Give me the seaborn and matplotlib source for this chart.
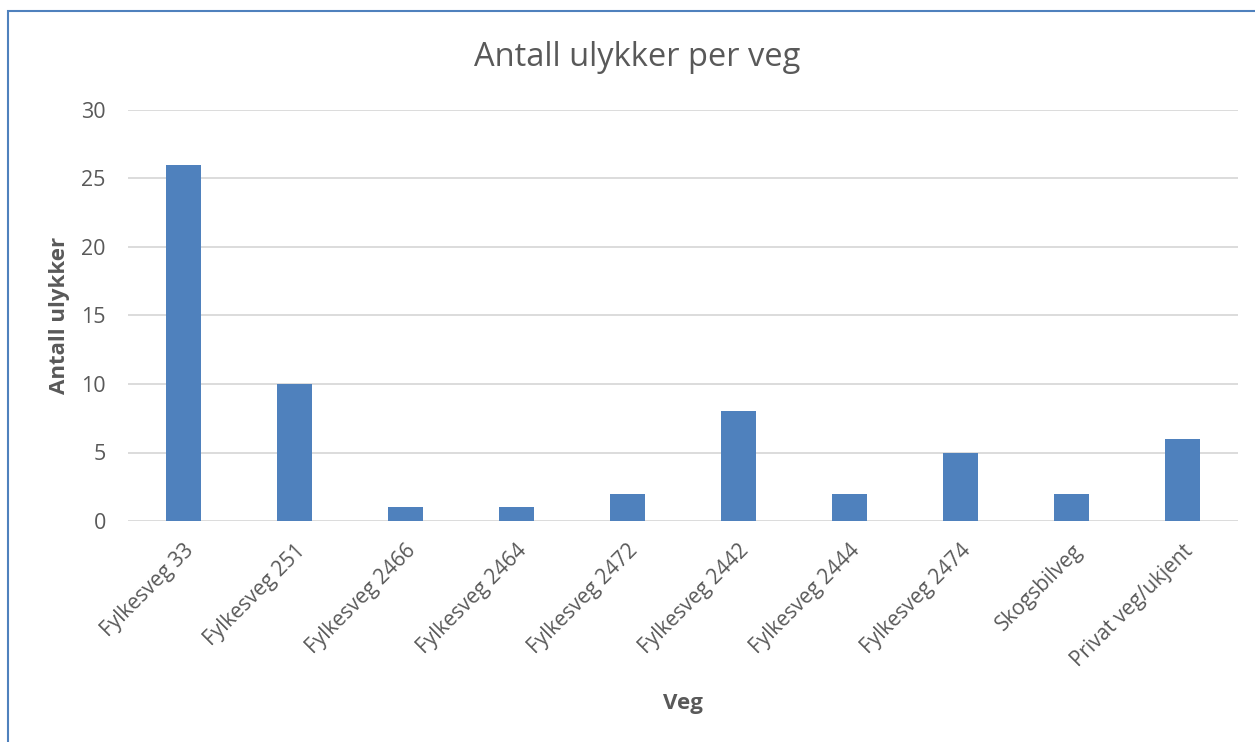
import matplotlib as mpl
mpl.use('Agg')
import matplotlib.pyplot as plt
from matplotlib.patches import Rectangle
import seaborn as sns
import pandas as pd

sns.set_style("white")
plt.rcParams['font.family'] = ['Open Sans', 'DejaVu Sans']

########## DATA ##########
veger = ['Fylkesveg 33', 'Fylkesveg 251', 'Fylkesveg 2466', 'Fylkesveg 2464',
         'Fylkesveg 2472', 'Fylkesveg 2442', 'Fylkesveg 2444', 'Fylkesveg 2474',
         'Skogsbilveg', 'Privat veg/ukjent']
ulykker = [26, 10, 1, 1, 2, 8, 2, 5, 2, 6]
yticks = [0, 5, 10, 15, 20, 25, 30]

df = pd.DataFrame({'Veg': veger, 'Antall ulykker': ulykker})

txt = '#595959'
fig = plt.figure(figsize=(12.55, 7.42), dpi=100)
ax = fig.add_axes([128 / 1255, 1 - 521 / 742, (1238 - 128) / 1255, (521 - 110) / 742])

sns.barplot(data=df, x='Veg', y='Antall ulykker', color='#4F81BD', width=0.32,
            saturation=1, ax=ax, zorder=3, linewidth=0)

ax.set_ylim(0, 30)
ax.set_yticks(yticks)
ax.set_xlim(-0.5, len(veger) - 0.5)
ax.yaxis.grid(True, color='#D9D9D9', lw=1.3, zorder=0)
ax.set_axisbelow(True)
for s in ax.spines.values():
    s.set_visible(False)
ax.tick_params(axis='both', length=0, colors=txt, labelsize=15.5)
ax.tick_params(axis='x', labelsize=15, pad=14)
ax.tick_params(axis='y', pad=16)
plt.setp(ax.get_xticklabels(), rotation=45, ha='right', rotation_mode='anchor')

ax.set_xlabel('Veg', fontsize=16, fontweight='bold', color=txt, labelpad=0)
ax.xaxis.set_label_coords(0.5, -(703 - 521) / 411)
ax.xaxis.label.set_va('center')
ax.set_ylabel('Antall ulykker', fontsize=16, fontweight='bold', color=txt)
ax.yaxis.set_label_coords(-(128 - 60) / 1110, 0.5)
ax.yaxis.label.set_va('center')

fig.text(637 / 1255, 1 - 57 / 742, 'Antall ulykker per veg', ha='center', va='center',
         fontsize=23.5, color=txt)

# chart frame
fig.patches.append(Rectangle((8 / 1255, -0.1), 1.2, 1 - 11 / 742 + 0.1,
                             transform=fig.transFigure, fill=False,
                             edgecolor='#4F81BD', lw=1.5))

fig.savefig('out.png', dpi=100)
